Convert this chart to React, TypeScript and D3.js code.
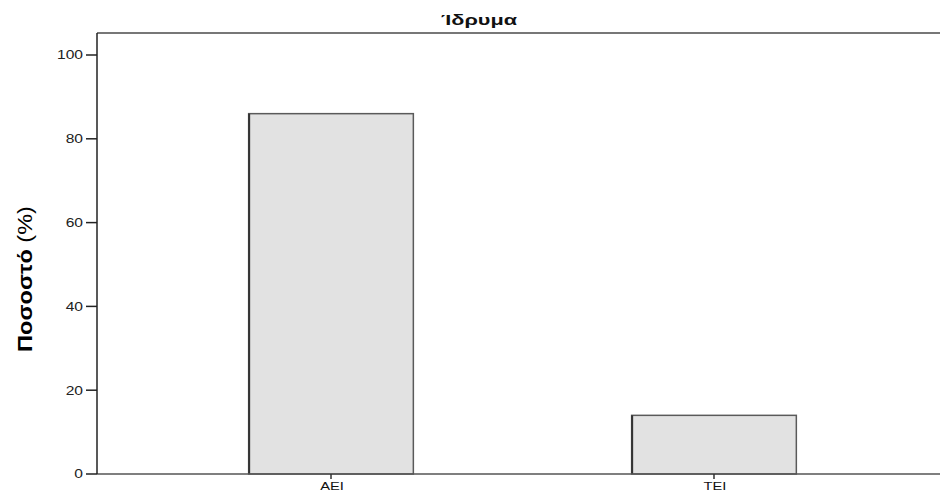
import React from "react";
import * as d3 from "d3";

const categories = ["ΑΕΙ", "ΤΕΙ"];
const percentages = [86.0, 14.0];
const yTicks = [0, 20, 40, 60, 80, 100];
const chartTitle = "Ίδρυμα";
const yLabelBold = "Ποσοστό";
const yLabelRest = " (%)";

const W = 940;
const H = 493;
const left = 97;
const right = 948;
const top = 33;
const bottom = 474;
const font = "Liberation Sans, Arial, sans-serif";

export default function App() {
  const x = d3.scalePoint<string>().domain(categories).range([left, right]).padding(0.611);
  const y = d3.scaleLinear().domain([0, 100]).range([bottom, 55]);
  const barW = x.step() * 0.43;

  return (
    <svg width={W} height={H} style={{ position: "absolute", left: 0, top: 0, background: "#fff" }}>
      <g transform="translate(479,25) scale(1.55,1)">
        <text textAnchor="middle" fontFamily={font} fontWeight="bold" fontSize={14} fill="#111">
          {chartTitle}
        </text>
      </g>
      {/* frame top */}
      <line x1={left} x2={W} y1={top} y2={top} stroke="#777" strokeWidth={2} />
      {/* bars */}
      {categories.map((c, i) => {
        const cx = x(c)!;
        return (
          <g key={c}>
            <rect x={cx - barW / 2} y={y(percentages[i])} width={barW} height={bottom - y(percentages[i])} fill="#e2e2e2" stroke="#5a5a5a" strokeWidth={1.5} />
            <line x1={cx - barW / 2 + 0.5} x2={cx - barW / 2 + 0.5} y1={y(percentages[i])} y2={bottom} stroke="#333" strokeWidth={2} />
          </g>
        );
      })}
      {/* axes */}
      <line x1={left} x2={W} y1={bottom} y2={bottom} stroke="#555" strokeWidth={1.5} />
      <line x1={left} x2={left} y1={top} y2={bottom} stroke="#222" strokeWidth={1.5} />
      {yTicks.map((t) => (
        <g key={t}>
          <line x1={left - 11} x2={left} y1={y(t)} y2={y(t)} stroke="#222" strokeWidth={1.5} />
          <g transform={`translate(${left - 14},${y(t)}) scale(1.3,1)`}>
            <text dy="0.36em" textAnchor="end" fontFamily={font} fontSize={12} fill="#222">
              {t}
            </text>
          </g>
        </g>
      ))}
      {categories.map((c) => (
        <g key={c}>
          <line x1={x(c)!} x2={x(c)!} y1={bottom} y2={bottom + 5} stroke="#333" strokeWidth={1.5} />
          <g transform={`translate(${x(c)! + 1},${bottom + 16}) scale(1.4,1)`}>
            <text textAnchor="middle" fontFamily={font} fontSize={10.5} fill="#111">
              {c}
            </text>
          </g>
        </g>
      ))}
      <g transform="translate(32,279) rotate(-90) scale(1.12,1)">
        <text textAnchor="middle" fontFamily={font} fontSize={21} fill="#000">
          <tspan fontWeight="bold">{yLabelBold}</tspan>
          <tspan>{yLabelRest}</tspan>
        </text>
      </g>
    </svg>
  );
}
